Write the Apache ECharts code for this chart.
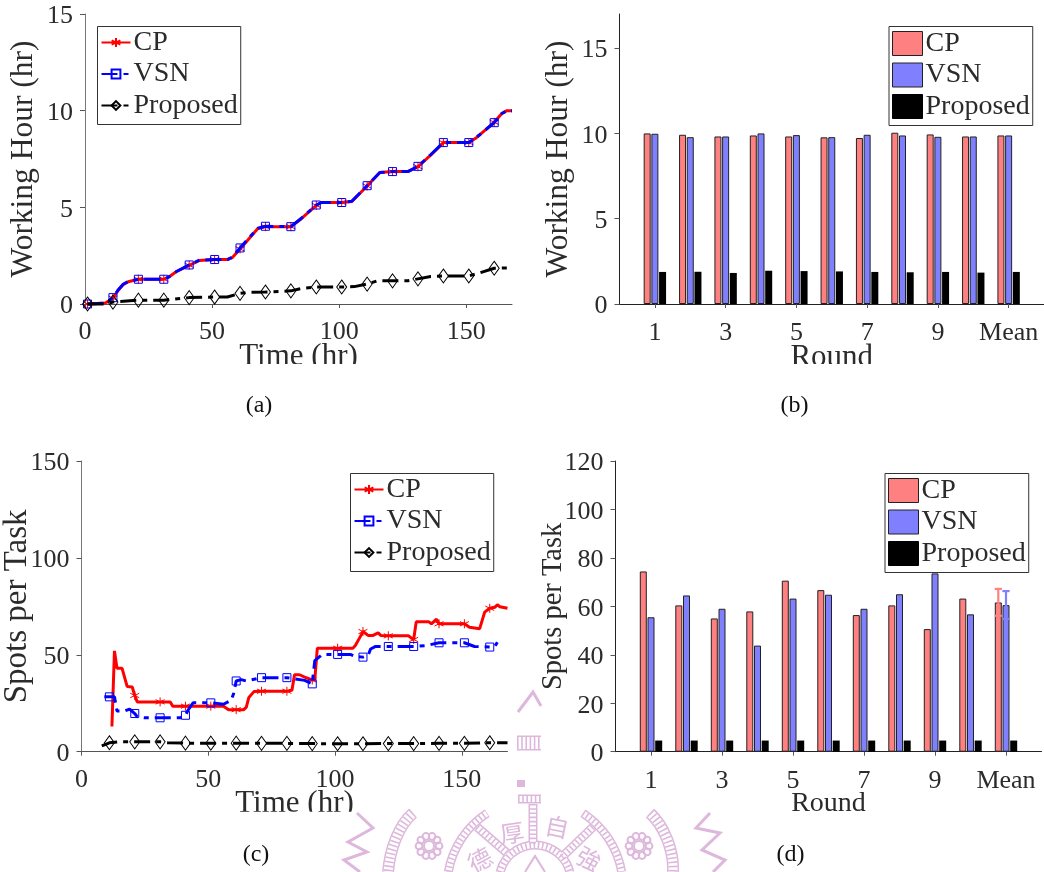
<!DOCTYPE html>
<html><head><meta charset="utf-8">
<style>html,body{margin:0;padding:0;background:#fff}#c{width:1044px;height:872px}</style>
<script src="https://cdn.jsdelivr.net/npm/echarts@6/dist/echarts.min.js"></script>
</head><body><div id="c"></div>
<script>
// Panel (a): working hour over time
const timeCpA = [1,8,11,13,15,17,21,31,33,36,41,45,51,56,58,61,64,68,71,81,85,91,93,101,105,111,116,121,127,131,136,141,151,154,161,164,166,168];
const cpA =     [0,0.05,0.3,0.7,1.0,1.15,1.28,1.28,1.4,1.68,2.0,2.25,2.3,2.3,2.4,2.85,3.3,3.9,4.0,4.0,4.4,5.1,5.25,5.25,5.3,6.1,6.8,6.85,6.85,7.1,7.7,8.35,8.35,8.6,9.4,9.85,10,10];
const vsnA =    [0,0.05,0.33,0.72,1.02,1.16,1.28,1.28,1.4,1.68,2.02,2.27,2.3,2.3,2.42,2.9,3.35,3.92,4.02,4.0,4.42,5.12,5.25,5.25,5.32,6.12,6.8,6.85,6.85,7.12,7.72,8.35,8.35,8.62,9.38,9.85,10,10];
const timePropA = [1,8,11,21,31,41,51,56,61,64,71,81,85,91,101,106,111,115,121,127,131,136,141,151,155,161,168];
const propA =     [0,0,0.1,0.2,0.2,0.33,0.36,0.36,0.55,0.6,0.62,0.68,0.8,0.88,0.88,0.9,1.03,1.2,1.2,1.2,1.3,1.42,1.45,1.45,1.6,1.85,1.87];

// Panel (b): working hour per round
const roundLabels = ['','1','','3','','5','','7','','9','','Mean',''];
const cpB =   [10.0,9.92,9.82,9.88,9.82,9.77,9.73,10.04,9.94,9.82,9.88];
const vsnB =  [9.98,9.78,9.82,10.0,9.9,9.78,9.92,9.88,9.8,9.82,9.88];
const propB = [1.88,1.89,1.82,1.95,1.93,1.91,1.88,1.86,1.88,1.84,1.88];

// Panel (c): spots per task over time
const timeCpC = [12,13,14,16,18,20,21,22,31,35,36,41,51,56,58,61,64,65,66,68,71,81,83,84,86,88,91,92,93,101,107,108,110,111,113,115,117,118,121,129,130,131,132,137,138,140,141,151,153,157,159,161,163,164,165,168];
const cpC =     [13,52,43,43,33.7,33.4,29,25.7,25.7,25.7,23.5,23.5,23.5,23.5,21.7,21.7,21.7,23,28,31,31.2,31.2,31.7,39.7,39.7,38.5,37,37,53.4,53.4,53.4,54.8,59.5,62,60,60,61.3,60,59.8,59.8,58.7,57.9,67,67,66,68.4,66,66,64.2,63.4,72,74,74.5,75.8,74.8,74];
const timeVsnC = [9,11,13,14,17,19,21,22,25,31,36,39,41,42,44,51,56,59,60,61,63,65,71,81,88,91,92,95,101,106,108,111,113,114,116,121,131,136,141,151,155,161,163,164];
const vsnC =     [28.3,28.3,28.3,21,21,22,19.7,18,17.5,17.5,17.5,17.5,18.8,21.4,25.2,25.2,24.5,26.5,30,36.5,37.2,36.5,38.2,38.2,36.8,35,47,50.2,50.2,50.2,49.1,48.8,49.6,53,54.3,54.3,54.3,54.8,56.2,56.2,54.3,54,54.3,56.5];
const timePropC = [8,11,15,21,31,34,41,51,61,71,81,91,101,111,121,131,141,151,161,168];
const propC =     [3,4.6,5.1,5.1,5.1,4.6,4.4,4.4,4.4,4.3,4.3,4.2,4.1,4.1,4.2,4.2,4.3,4.3,4.6,4.6];

// Panel (d): spots per task per round
const cpD =   [74.4,60.4,55,57.9,70.6,66.7,56.4,60.4,50.6,63.2,61.6];
const vsnD =  [55.5,64.5,59,43.8,63.2,64.8,59,65,73.6,56.7,60.5];
const propD = [4.6,4.6,4.6,4.6,4.6,4.6,4.6,4.6,4.6,4.6,4.6];
const cpMeanError =  [11,56.1,67.2];
const vsnMeanError = [11,54.8,66.3];

const timeTicks = [0,50,100,150];
const hourTicks = [0,5,10,15];
const spotTicksC = [0,50,100,150];
const spotTicksD = [0,20,40,60,80,100,120];

const RED='#ff0000', BLUE='#0000ff', BLACK='#000000', LRED='#ff8080', LBLUE='#8080ff';
const FONT='"Liberation Serif", serif', INK='#2b2b2b', AXIS='#555555';
const ASTERISK='path://M0,-5L0,5M-4.33,-2.5L4.33,2.5M-4.33,2.5L4.33,-2.5';
const DASHDOT=[16,6,5,6];

function pts(ts,ys){
  return ts.map((t,i)=> t%10===1 ? {value:[t,ys[i]]} : {value:[t,ys[i]],symbol:'none'});
}
function lineS(name,idx,ts,ys,color,symbol,size,dash,z){
  return {name,type:'line',xAxisIndex:idx,yAxisIndex:idx,data:pts(ts,ys),symbol,symbolSize:size,showSymbol:true,
    showAllSymbol:true,clip:false,smooth:false,z,
    lineStyle:{color,width:3,type:dash,cap:'butt'},
    itemStyle:{color:'rgba(255,255,255,0)',borderColor:color,borderWidth:1},
    emphasis:{disabled:true}};
}
function barS(name,idx,vals,color){
  return {name,type:'bar',xAxisIndex:idx,yAxisIndex:idx,data:[null,...vals,null],barWidth:7,barGap:'10%',
    itemStyle:{color,borderColor:color===BLACK?BLACK:'#222',borderWidth:color===BLACK?0:1},z:2};
}
function errS(idx,rec,color,dx){
  return {name:'err',type:'custom',xAxisIndex:idx,yAxisIndex:idx,data:[rec],z:5,clip:false,
    renderItem:(p,api)=>{
      const a=api.coord([api.value(0),api.value(1)]), b=api.coord([api.value(0),api.value(2)]);
      const x=a[0]+dx, st={stroke:color,lineWidth:2.2,fill:'none'};
      return {type:'group',children:[
        {type:'line',shape:{x1:x,y1:a[1],x2:x,y2:b[1]},style:st},
        {type:'line',shape:{x1:x-3.6,y1:a[1],x2:x+3.6,y2:a[1]},style:st},
        {type:'line',shape:{x1:x-3.6,y1:b[1],x2:x+3.6,y2:b[1]},style:st}]};
    }};
}
function xTime(gi,name,gap){
  return {type:'value',gridIndex:gi,min:0,max:168,name,nameLocation:'middle',nameGap:gap,nameMoveOverlap:false,
    nameTextStyle:{fontFamily:FONT,fontSize:31,color:INK},
    axisLine:{show:true,onZero:false,lineStyle:{color:AXIS}},
    axisTick:{show:true,length:4,customValues:timeTicks,lineStyle:{color:AXIS}},
    axisLabel:{customValues:timeTicks,margin:15,fontFamily:FONT,fontSize:26,color:INK},splitLine:{show:false}};
}
function xRound(gi,name,gap,size){
  return {type:'category',gridIndex:gi,boundaryGap:false,data:roundLabels,name,nameLocation:'middle',nameGap:gap,nameMoveOverlap:false,
    nameTextStyle:{fontFamily:FONT,fontSize:size,color:INK},
    axisLine:{show:true,onZero:false,lineStyle:{color:'#222'}},
    axisTick:{show:true,length:4,interval:(i)=>i%2===1,lineStyle:{color:AXIS}},
    axisLabel:{interval:(i)=>i%2===1,margin:16,fontFamily:FONT,fontSize:26,color:INK},splitLine:{show:false}};
}
function yAxis(gi,max,ticks,name,gap,size,lc){
  return {type:'value',gridIndex:gi,min:0,max,name,nameLocation:'middle',nameGap:gap,nameMoveOverlap:false,
    nameTextStyle:{fontFamily:FONT,fontSize:size,color:INK},
    axisLine:{show:true,lineStyle:{color:lc}},
    axisTick:{show:true,length:5,customValues:ticks,lineStyle:{color:AXIS}},
    axisLabel:{customValues:ticks,margin:12,formatter:(v)=>'{t|'+v+'}',
      rich:{t:{fontFamily:FONT,fontSize:26,color:INK,padding:[5,0,0,0]}}},splitLine:{show:false}};
}
function lineLegend(left,top){
  return {left,top,orient:'vertical',data:['CP','VSN','Proposed'],selectedMode:false,itemWidth:29,itemHeight:11,itemGap:3.5,
    padding:[2,3,5,3],backgroundColor:'#fff',borderColor:'#333',borderWidth:1,borderRadius:0,z:10,
    textStyle:{fontFamily:FONT,fontSize:28,color:INK,padding:[0,0,0,-2]}};
}
function barLegend(left,top){
  const it=(name,c)=>({name,icon:'rect',itemStyle:{color:c,borderColor:c===BLACK?BLACK:'#222',borderWidth:1}});
  return {left,top,orient:'vertical',data:[it('CP',LRED),it('VSN',LBLUE),it('Proposed',BLACK)],selectedMode:false,
    itemWidth:30,itemHeight:24,itemGap:3.5,padding:[3,3,5,3],backgroundColor:'#fff',borderColor:'#333',borderWidth:1,borderRadius:0,z:10,
    textStyle:{fontFamily:FONT,fontSize:28,color:INK,padding:[0,0,0,-2]}};
}
function caption(text,x,y){
  return {text,left:x,top:y,textAlign:'center',padding:0,textStyle:{fontFamily:'"Liberation Serif", serif',fontSize:24,fontWeight:'normal',color:'#111'}};
}

// Pale watermark behind the page (decorative)
const WM='#ddb8dc';
const DEG=Math.PI/180;
const poly=(points)=>({kind:'polyline',shape:{points}});
const bez=(x1,y1,cpx1,cpy1,cpx2,cpy2,x2,y2)=>({kind:'bezierCurve',shape:{x1,y1,cpx1,cpy1,cpx2,cpy2,x2,y2}});
const arc=(cx,cy,r,a0,a1)=>({kind:'arc',shape:{cx,cy,r,startAngle:a0*DEG,endAngle:a1*DEG,clockwise:true}});
function wmLine(g,w){return {type:g.kind,silent:true,z:60,shape:g.shape,style:{fill:null,stroke:WM,lineWidth:w}};}
function rope(g,w){
  return [wmLine(g,w),
    {type:g.kind,silent:true,z:61,shape:g.shape,style:{fill:null,stroke:'#fff',lineWidth:w-3}},
    {type:g.kind,silent:true,z:62,shape:g.shape,style:{fill:null,stroke:WM,lineWidth:w-3,lineDash:[1.6,2.6]}}];
}
function flower(cx,cy){
  const out=[{type:'circle',silent:true,z:60,shape:{cx,cy,r:5},style:{fill:null,stroke:WM,lineWidth:2}}];
  for(let i=0;i<10;i++){const a=i*36*DEG;
    out.push({type:'circle',silent:true,z:60,shape:{cx:cx+10*Math.cos(a),cy:cy+10*Math.sin(a),r:3.4},style:{fill:null,stroke:WM,lineWidth:2}});}
  return out;
}
function wmChar(t,x,y,rot){
  return {type:'text',silent:true,z:60,x,y,rotation:rot,style:{text:t,fill:WM,font:'24px "Noto Sans CJK TC"',align:'center',verticalAlign:'middle'}};
}
const watermark=[
  wmLine(poly([[357,813],[373,828],[348,842],[367,852],[344,860],[360,872]]),3),
  wmLine(poly([[710,813],[696,828],[720,833],[702,850],[725,860],[713,872]]),3),
  wmLine(poly([[518,712],[533,692],[541,706]]),3),
  ...rope(bez(413,813,398,826,390,850,388,872),12),
  ...rope(bez(650,813,664,826,674,850,673,872),12),
  ...rope(arc(535,887,88,190,237),9),
  ...rope(arc(535,887,88,303,350),9),
  ...rope(arc(535,881,36,194,346),9),
  ...rope(poly([[533,804],[533,845]]),9),
  ...rope(poly([[518,799],[541,799]]),9),
  ...rope(poly([[477,827],[507,853]]),9),
  ...rope(poly([[593,827],[562,857]]),9),
  ...rope(poly([[517,743],[541,743]]),15),
  {type:'rect',silent:true,z:60,shape:{x:517,y:780,width:8,height:7},style:{fill:WM}},
  wmLine(poly([[525,872],[535,856],[545,872]]),2),
  ...flower(429,846),...flower(639,846),
  wmChar('厚',512,833,0.15),wmChar('自',557,827,-0.2),wmChar('德',480,860,0.5),wmChar('強',589,859,-0.5)
];
const masks=[
  {type:'rect',silent:true,z:50,shape:{x:225,y:364,width:140,height:16},style:{fill:'#fff'}},
  {type:'rect',silent:true,z:50,shape:{x:780,y:364,width:110,height:16},style:{fill:'#fff'}},
  {type:'rect',silent:true,z:50,shape:{x:225,y:811.7,width:140,height:16},style:{fill:'#fff'}}
];

const option={
  animation:false,backgroundColor:'#fff',
  title:[caption('(a)',259,394),caption('(b)',794.5,394),caption('(c)',256,843),caption('(d)',790.5,843)],
  grid:[
    {left:85,top:14,width:427,height:290,outerBoundsMode:'none'},
    {left:619.5,top:14,width:424.5,height:290,outerBoundsMode:'none'},
    {left:81.5,top:461,width:426,height:290.7,outerBoundsMode:'none'},
    {left:615.5,top:461,width:426,height:290.7,outerBoundsMode:'none'}],
  xAxis:[xTime(0,'Time (hr)',37),xRound(1,'Round',38,31),xTime(2,'Time (hr)',37),xRound(3,'Round',38,28)],
  yAxis:[yAxis(0,15,hourTicks,'Working Hour (hr)',45,31.5,'#777'),
         yAxis(1,17,hourTicks,'Working Hour (hr)',45,31.5,'#222'),
         yAxis(2,150,spotTicksC,'Spots per Task',48,33,'#777'),
         yAxis(3,120,spotTicksD,'Spots per Task',47,28.5,'#222')],
  legend:[lineLegend(97.5,26.5),barLegend(889,26.5),lineLegend(350.5,473.5),barLegend(885,473.5)],
  series:[
    lineS('CP',0,timeCpA,cpA,RED,ASTERISK,9,'solid',3),
    lineS('VSN',0,timeCpA,vsnA,BLUE,'rect',8,DASHDOT,4),
    lineS('Proposed',0,timePropA,propA,BLACK,'diamond',[10,14],DASHDOT,5),
    barS('CP',1,cpB,LRED),barS('VSN',1,vsnB,LBLUE),barS('Proposed',1,propB,BLACK),
    lineS('CP',2,timeCpC,cpC,RED,ASTERISK,9,'solid',3),
    lineS('VSN',2,timeVsnC,vsnC,BLUE,'rect',8,DASHDOT,4),
    lineS('Proposed',2,timePropC,propC,BLACK,'diamond',[10,14],DASHDOT,5),
    barS('CP',3,cpD,LRED),barS('VSN',3,vsnD,LBLUE),barS('Proposed',3,propD,BLACK),
    errS(3,cpMeanError,LRED,-7.7),errS(3,vsnMeanError,LBLUE,0)
  ],
  graphic:[...masks,...watermark]
};
echarts.init(document.getElementById('c'),null,{renderer:'canvas'}).setOption(option);
</script></body></html>
